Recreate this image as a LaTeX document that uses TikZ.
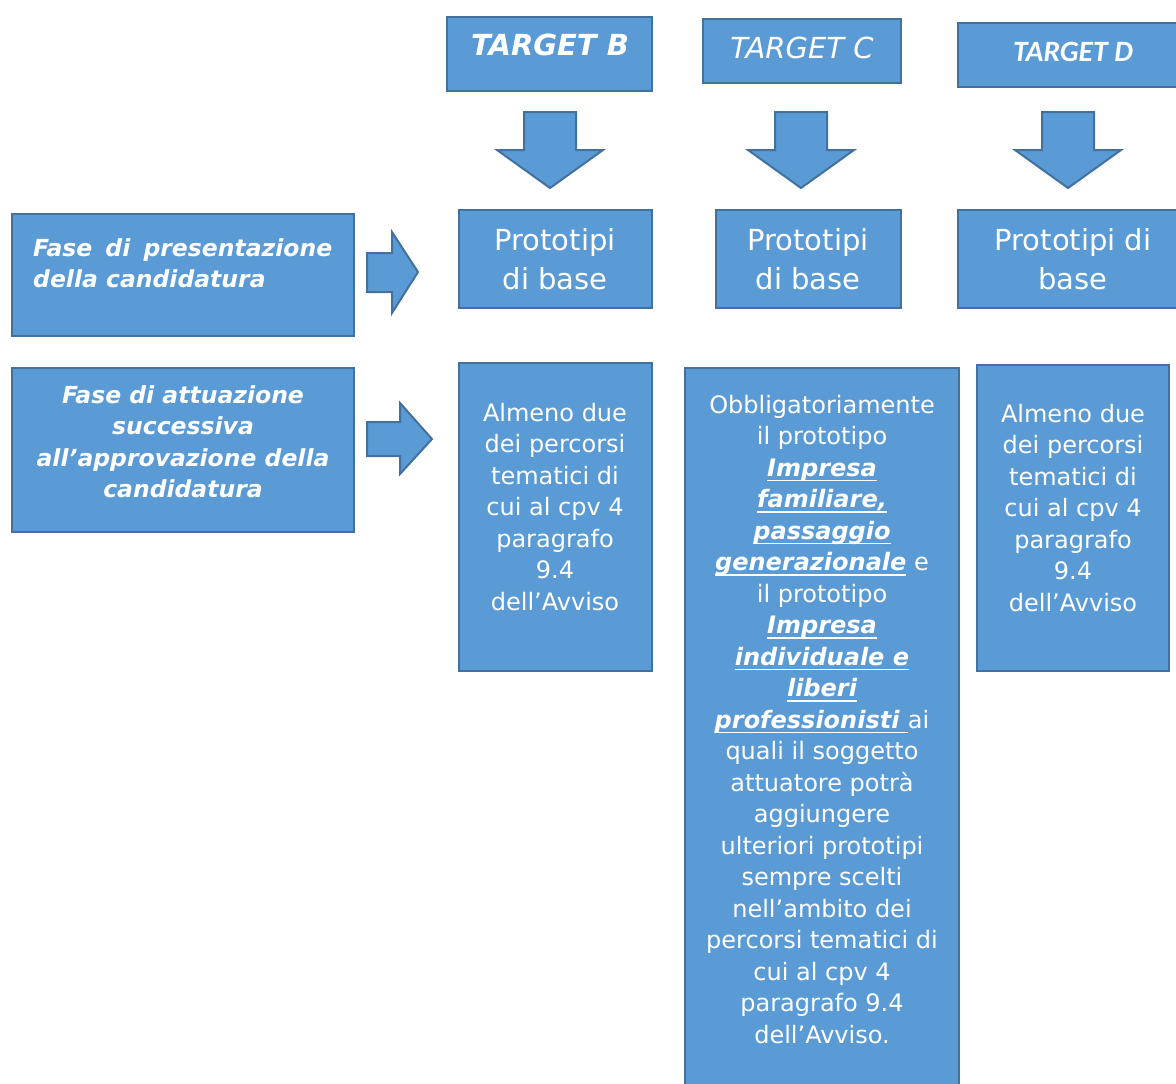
\documentclass[tikz,border=0pt]{standalone}
\usepackage{fontspec}
\setmainfont{DejaVu Sans}
\newfontfamily\calib{Carlito}
\definecolor{boxfill}{HTML}{5B9BD5}
\definecolor{boxline}{HTML}{41719C}
\newcommand\smtxt{\fontsize{24}{31.5}\selectfont}
\newcommand\bgtxt{\fontsize{29}{39}\selectfont}
\newcommand\ulbi[1]{\setbox0\hbox{\bfseries\itshape #1}\rlap{\rule[-5pt]{\wd0}{1.6pt}}\box0}
\tikzset{
  blk/.style={draw=boxline, fill=boxfill, line width=2pt},
  txt/.style={text=white, inner sep=0pt, align=center, anchor=north},
  smt/.style={txt, font=\smtxt},
  bgt/.style={txt, font=\bgtxt},
  lft/.style={txt, font=\fontsize{23.5}{31.5}\selectfont\bfseries\itshape},
}
\begin{document}
\begin{tikzpicture}[x=1pt,y=-1pt]
\useasboundingbox (0,0) rectangle (1176,1084);
\clip (0,0) rectangle (1176,1084);
% target boxes
\path[blk] (447,17) rectangle (652,91);
\path[blk] (703,19) rectangle (901,83);
\path[blk] (958,23) rectangle (1190,87);
\node[bgt, font=\bgtxt\bfseries\itshape] (tb) at (550,34) {TARGET B};
\node[bgt, font=\bgtxt\itshape] (tc) at (802,37) {TARGET C};
\node[txt, font=\fontsize{29.5}{34}\selectfont\calib\bfseries\itshape] (td) at (1073,42) {TARGET D};
% down arrows
\path[blk] (524,112) -- (576,112) -- (576,150) -- (603,150) -- (550,188) -- (497,150) -- (524,150) -- cycle;
\path[blk] (775,112) -- (827,112) -- (827,150) -- (854,150) -- (801,188) -- (748,150) -- (775,150) -- cycle;
\path[blk] (1042,112) -- (1094,112) -- (1094,150) -- (1121,150) -- (1068,188) -- (1015,150) -- (1042,150) -- cycle;
% prototipi boxes
\path[blk] (459,210) rectangle (652,308);
\path[blk] (716,210) rectangle (901,308);
\path[blk] (958,210) rectangle (1190,308);
\node[bgt] (pb) at (555,228) {Prototipi\\di base};
\node[bgt] (pc) at (808,228) {Prototipi\\di base};
\node[bgt] (pd) at (1073,228) {Prototipi di\\base};
% left boxes
\path[blk] (12,214) rectangle (354,336);
\path[blk] (12,368) rectangle (354,532);
\node[lft, anchor=north west, align=left] (f1) at (33,238) {\hbox to 299pt{Fase\hfill di\hfill presentazione}\\della candidatura};
\node[lft] (f2) at (183,385) {Fase di attuazione\\successiva\\all’approvazione della\\candidatura};
% right arrows
\path[blk] (367,253) -- (392,253) -- (392,232) -- (418,272) -- (392,313) -- (392,292) -- (367,292) -- cycle;
\path[blk] (367,422) -- (400,422) -- (400,403) -- (432,439) -- (400,474) -- (400,456) -- (367,456) -- cycle;
% bottom boxes
\path[blk] (459,363) rectangle (652,671);
\path[blk] (685,368) rectangle (959,1100);
\path[blk] (977,365) rectangle (1169,671);
\node[smt] (ab) at (555,403) {Almeno due\\dei percorsi\\tematici di\\cui al cpv 4\\paragrafo\\9.4\\dell’Avviso};
\node[smt] (ad) at (1073,404) {Almeno due\\dei percorsi\\tematici di\\cui al cpv 4\\paragrafo\\9.4\\dell’Avviso};
\node[smt] (ac) at (822,395) {Obbligatoriamente\\il prototipo\\\ulbi{Impresa}\\\ulbi{familiare,}\\\ulbi{passaggio}\\\ulbi{generazionale}\ e\\il prototipo\\\ulbi{Impresa}\\\ulbi{individuale e}\\\ulbi{liberi}\\\ulbi{professionisti\ }ai\\quali il soggetto\\attuatore potrà\\aggiungere\\ulteriori prototipi\\sempre scelti\\nell’ambito dei\\percorsi tematici di\\cui al cpv 4\\paragrafo 9.4\\dell’Avviso.};
\end{tikzpicture}
\end{document}
